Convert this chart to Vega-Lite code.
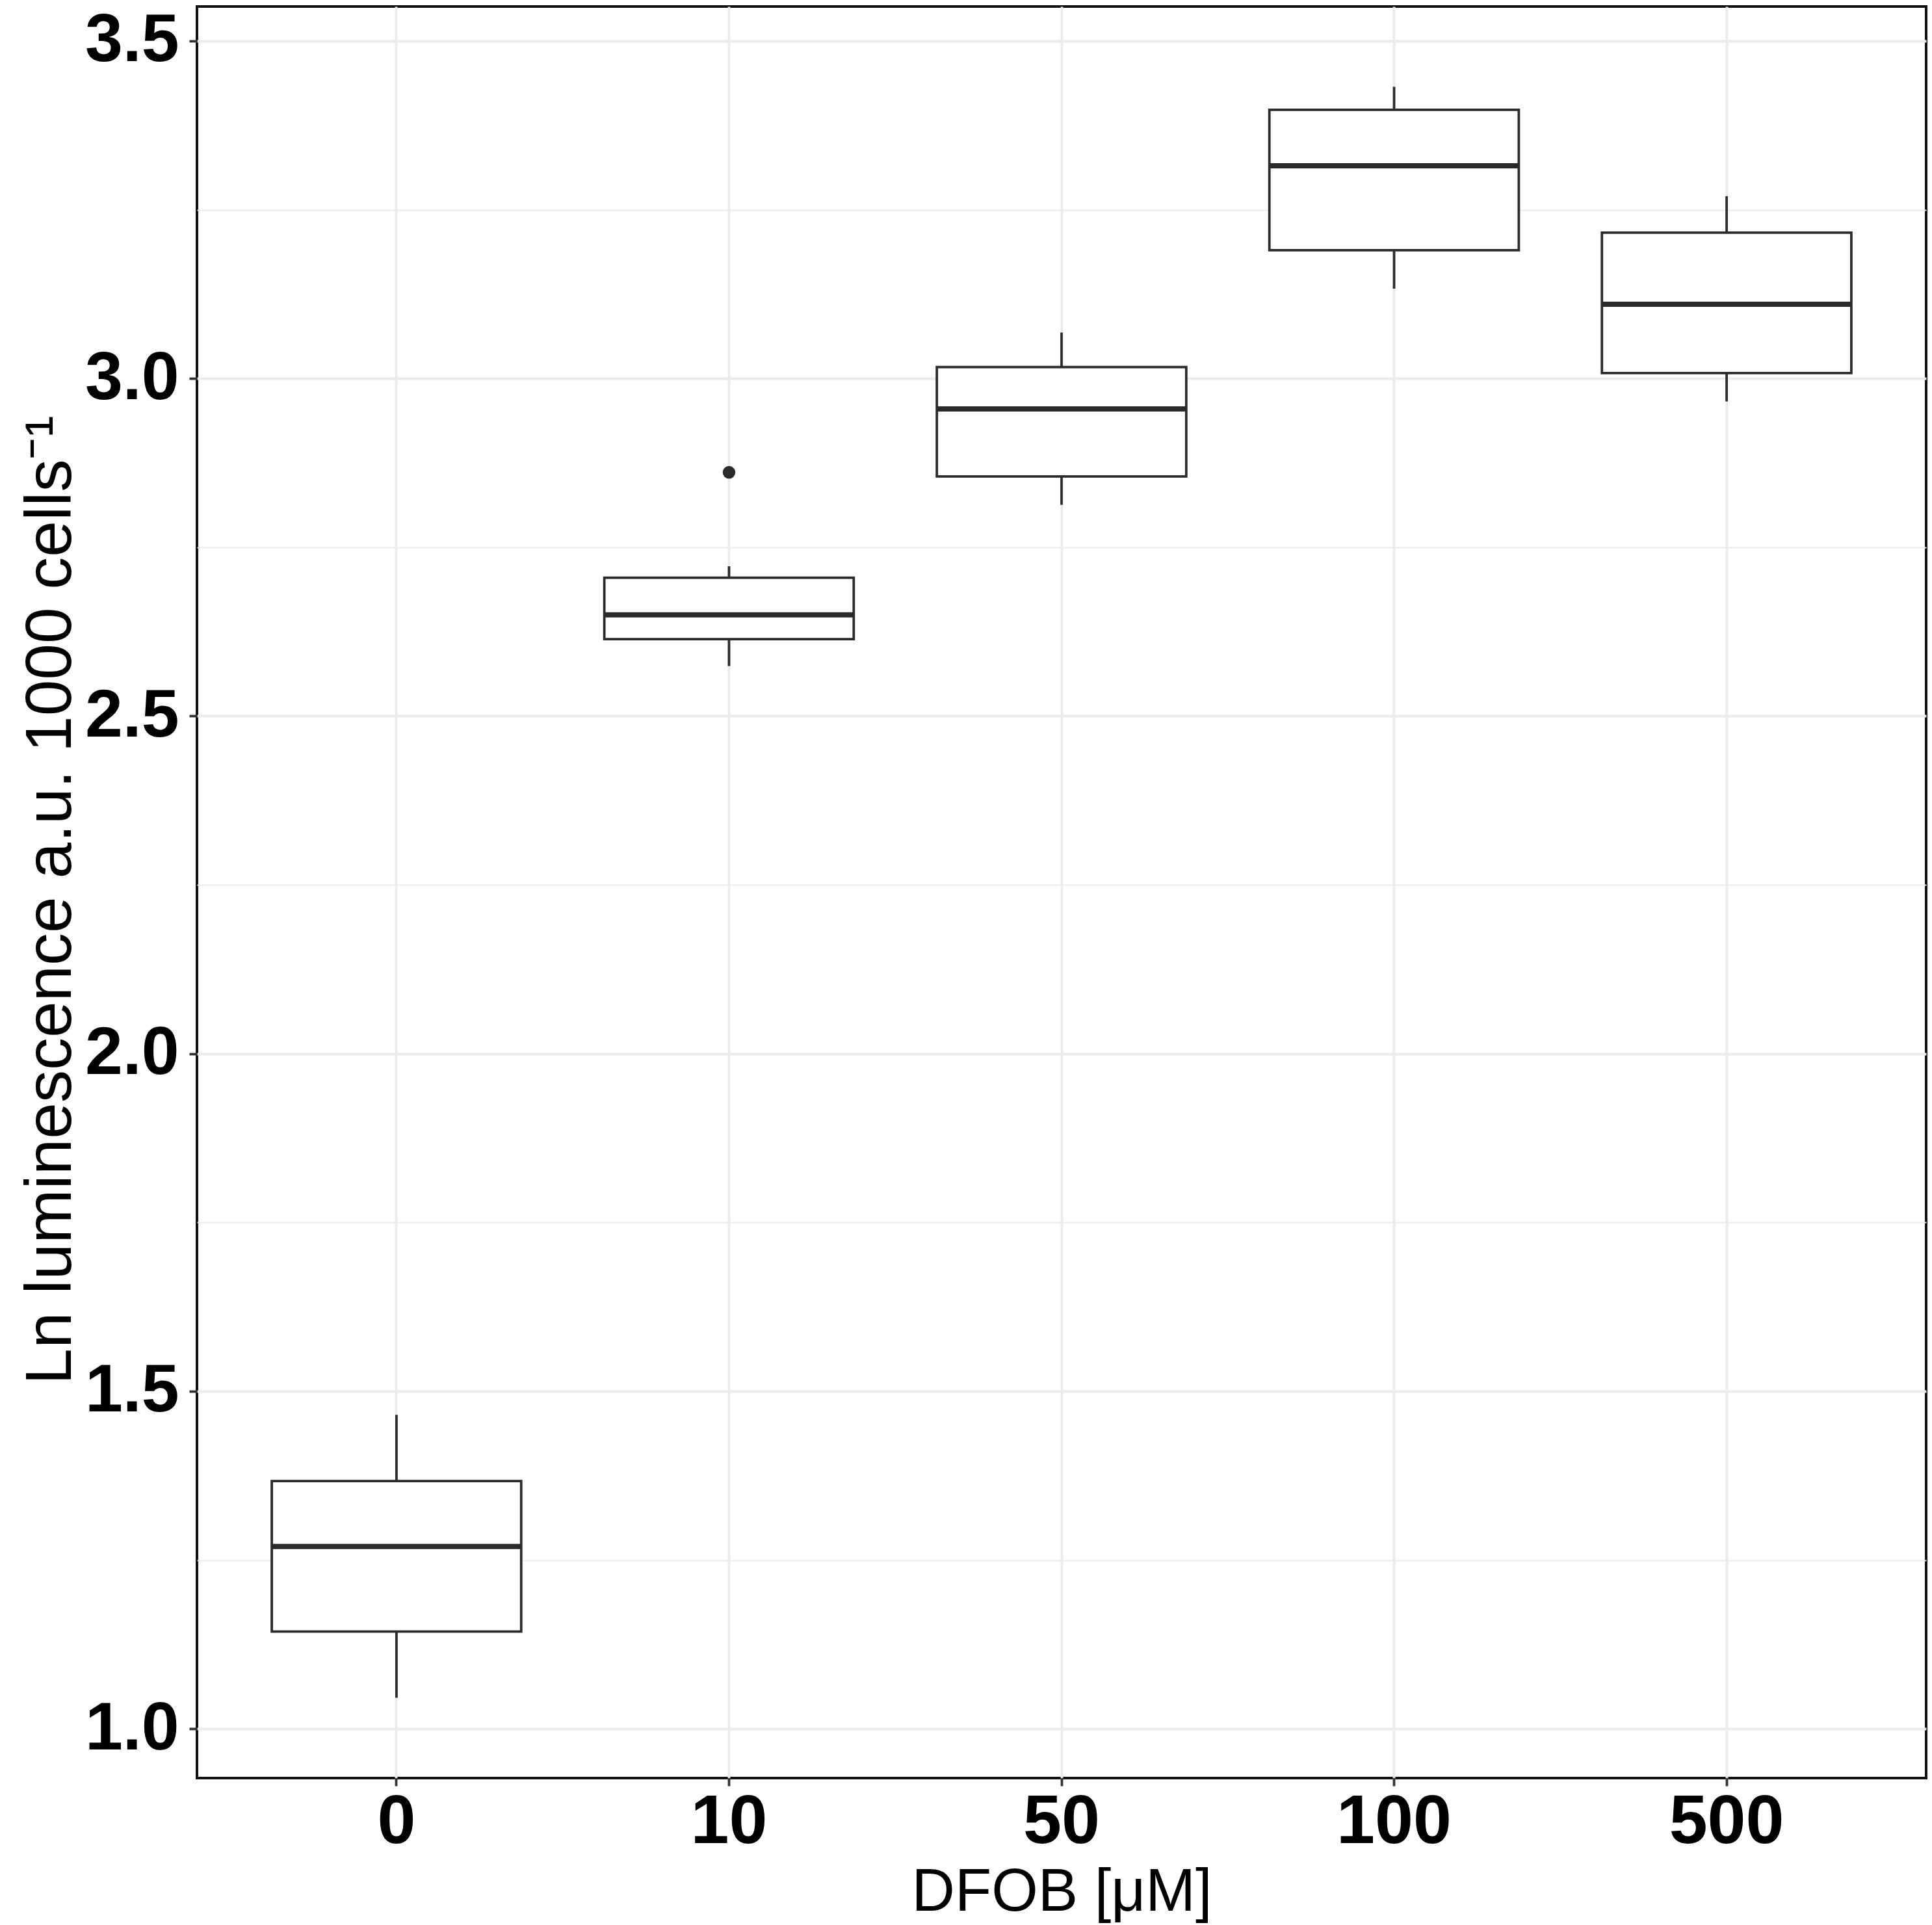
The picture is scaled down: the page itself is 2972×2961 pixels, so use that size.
{
  "$schema": "https://vega.github.io/schema/vega-lite/v6.json",
  "autosize": {"type": "none"},
  "padding": {"left": 303, "top": 10, "right": 9, "bottom": 226},
  "width": 2660,
  "height": 2725,
  "background": "white",
  "config": {
    "view": {"stroke": "#111111", "strokeWidth": 4},
    "font": "Liberation Sans"
  },
  "datasets": {
    "boxes": [
      {"dfob": "0", "lower": 1.046, "q1": 1.144, "median": 1.270, "q3": 1.367, "upper": 1.465},
      {"dfob": "10", "lower": 2.574, "q1": 2.614, "median": 2.650, "q3": 2.705, "upper": 2.722},
      {"dfob": "50", "lower": 2.813, "q1": 2.855, "median": 2.955, "q3": 3.017, "upper": 3.068},
      {"dfob": "100", "lower": 3.133, "q1": 3.190, "median": 3.315, "q3": 3.398, "upper": 3.432},
      {"dfob": "500", "lower": 2.966, "q1": 3.008, "median": 3.110, "q3": 3.216, "upper": 3.270}
    ],
    "outliers": [
      {"dfob": "10", "value": 2.861}
    ]
  },
  "encoding": {
    "x": {
      "field": "dfob",
      "type": "nominal",
      "sort": ["0", "10", "50", "100", "500"],
      "scale": {"paddingInner": 0.25, "paddingOuter": 0.225},
      "axis": {
        "title": "DFOB [μM]",
        "titleFont": "Liberation Sans",
        "titleFontSize": 92,
        "titleFontWeight": "normal",
        "titleColor": "black",
        "titleBaseline": "alphabetic",
        "titleY": 203,
        "labelAngle": 0,
        "labelFont": "Liberation Sans",
        "labelFontSize": 106,
        "labelFontWeight": "bold",
        "labelColor": "black",
        "labelBaseline": "alphabetic",
        "labelPadding": 87,
        "labelLimit": 0,
        "tickSize": 12,
        "tickWidth": 3.8,
        "tickColor": "#333333",
        "domain": false,
        "grid": true,
        "gridColor": "#EBEBEB",
        "gridWidth": 3.8
      }
    }
  },
  "layer": [
    {
      "data": {"name": "boxes"},
      "mark": {"type": "rule", "color": "#2b2b2b", "strokeWidth": 3.8},
      "encoding": {
        "y": {
          "field": "lower",
          "type": "quantitative",
          "scale": {"domain": [0.927, 3.551], "nice": false, "zero": false},
          "axis": {
            "title": "Ln luminescence a.u. 1000 cells⁻¹",
            "titleFont": "Liberation Sans",
            "titleFontSize": 100,
            "titleFontWeight": "normal",
            "titleColor": "black",
            "titleAngle": -90,
            "titleBaseline": "alphabetic",
            "titleAlign": "center",
            "titleX": -195,
            "titleY": 1374,
            "values": [1, 1.25, 1.5, 1.75, 2, 2.25, 2.5, 2.75, 3, 3.25, 3.5],
            "labelExpr": "datum.value % 0.5 == 0 ? format(datum.value, '.1f') : ''",
            "labelFont": "Liberation Sans",
            "labelFontSize": 104,
            "labelFontWeight": "bold",
            "labelColor": "black",
            "labelPadding": 16,
            "labelLimit": 0,
            "tickSize": 12,
            "tickWidth": 3.8,
            "tickColor": "#333333",
            "tickOpacity": {"condition": {"test": "datum.value % 0.5 != 0", "value": 0}, "value": 1},
            "domain": false,
            "grid": true,
            "gridColor": "#EBEBEB",
            "gridWidth": {"condition": {"test": "datum.value % 0.5 != 0", "value": 1.9}, "value": 3.8}
          }
        },
        "y2": {"field": "upper"}
      }
    },
    {
      "data": {"name": "boxes"},
      "mark": {"type": "bar", "fill": "white", "stroke": "#2b2b2b", "strokeWidth": 3.8},
      "encoding": {
        "y": {"field": "q1", "type": "quantitative"},
        "y2": {"field": "q3"}
      }
    },
    {
      "data": {"name": "boxes"},
      "mark": {"type": "tick", "color": "#2b2b2b", "thickness": 8, "size": 384, "opacity": 1},
      "encoding": {
        "y": {"field": "median", "type": "quantitative"}
      }
    },
    {
      "data": {"name": "outliers"},
      "mark": {"type": "point", "filled": true, "color": "#2b2b2b", "size": 380, "opacity": 1},
      "encoding": {
        "y": {"field": "value", "type": "quantitative"}
      }
    }
  ]
}
